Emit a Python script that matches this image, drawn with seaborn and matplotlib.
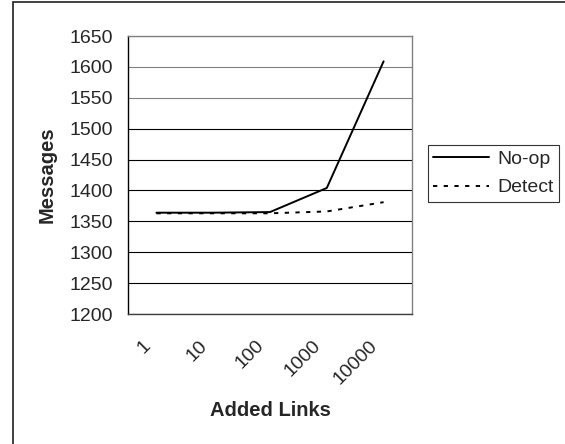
import matplotlib
matplotlib.use("Agg")
import matplotlib.pyplot as plt
import seaborn as sns
import pandas as pd
from matplotlib.patches import Rectangle
from matplotlib.lines import Line2D
from matplotlib.transforms import ScaledTranslation

categories = ["1", "10", "100", "1000", "10000"]
noop = [1364, 1364, 1365, 1404, 1609]
detect = [1363, 1363, 1363, 1366, 1381]
series_names = ["No-op", "Detect"]
yticks = [1200, 1250, 1300, 1350, 1400, 1450, 1500, 1550, 1600, 1650]

sns.set_style("white")
plt.rcParams['font.family'] = ['Liberation Sans', 'DejaVu Sans']

df = pd.DataFrame({
    "x": list(range(len(categories))) * 2,
    "y": noop + detect,
    "series": [series_names[0]] * len(categories) + [series_names[1]] * len(categories),
})

W, H = 565, 444
FS = 14
fig = plt.figure(figsize=(W / 100, H / 100), dpi=100)
L, R, T, B = 128, 412, 36, 314
ax = fig.add_axes([L / W, 1 - B / H, (R - L) / W, (B - T) / H])

DASH = (2.2, 3.3)
sns.lineplot(data=df, x="x", y="y", style="series", hue="series",
             palette={"No-op": "black", "Detect": "black"},
             dashes={"No-op": "", "Detect": DASH}, linewidth=1.4,
             ax=ax, legend=False)

ax.set_xlim(-0.5, len(categories) - 0.5)
ax.set_ylim(1200, 1650)
ax.set_yticks(yticks)
ax.set_yticklabels([str(t) for t in yticks], fontsize=FS)
ax.yaxis.grid(True, color="black", linewidth=0.8)
for gl, t in zip(ax.get_ygridlines(), yticks):
    if t >= 1550:
        gl.set_color("#808080")
ax.set_axisbelow(True)

# x ticks at category boundaries, labels at category centres
ax.set_xticks([i - 0.5 for i in range(len(categories) + 1)], minor=False)
ax.set_xticklabels([""] * (len(categories) + 1))
ax.set_xticks(list(range(len(categories))), minor=True)
ax.set_xticklabels(categories, minor=True, rotation=45, ha="right", va="center",
                   rotation_mode="anchor", fontsize=FS)
ax.tick_params(axis="x", which="major", direction="out", length=4.5, width=0.8, color="#606060")
ax.tick_params(axis="x", which="minor", length=0, pad=21)
ax.tick_params(axis="y", direction="out", length=5, width=0.8, color="black", pad=5.5)
off = ScaledTranslation(-6 / 72, 0, fig.dpi_scale_trans)
for lab in ax.get_xticklabels(minor=True):
    lab.set_transform(lab.get_transform() + off)

ax.spines["left"].set_color("black")
ax.spines["left"].set_linewidth(1.0)
ax.spines["bottom"].set_color("#404040")
ax.spines["bottom"].set_linewidth(1.0)
for s in ["top", "right"]:
    ax.spines[s].set_color("#808080")
    ax.spines[s].set_linewidth(1.0)

ax.set_xlabel("Added Links", fontsize=14.5, fontweight="bold")
ax.xaxis.set_label_coords((270 - L) / (R - L), -(410 - B) / (B - T))
ax.xaxis.label.set_va("center")
ax.set_ylabel("Messages", fontsize=14.5, fontweight="bold")
ax.yaxis.set_label_coords(-(L - 47) / (R - L), (B - 175) / (B - T))
ax.yaxis.label.set_va("center")

handles = [Line2D([], [], color="black", lw=1.4),
           Line2D([], [], color="black", lw=1.4, dashes=DASH)]
leg = fig.legend(handles, series_names, loc="upper left",
                 bbox_to_anchor=(428 / W, 1 - 145 / H),
                 frameon=True, fancybox=False, edgecolor="black",
                 fontsize=FS, handlelength=2.85, handletextpad=0.45,
                 borderpad=0.28, labelspacing=0.55, borderaxespad=0)
leg.get_frame().set_linewidth(0.8)

fig.patches.append(Rectangle((13 / W, -0.1), 1.0, 1 + 0.1 - 2 / H,
                             transform=fig.transFigure, fill=False,
                             edgecolor="#202020", linewidth=1.2))

fig.savefig("out.png", dpi=100, facecolor="white")
